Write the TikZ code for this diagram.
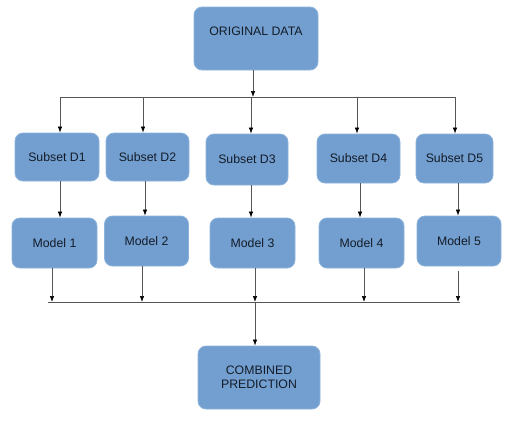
\documentclass[tikz,border=0pt]{standalone}
\usepackage{fontspec}
\setmainfont{Liberation Sans}
\usetikzlibrary{arrows.meta}
\definecolor{boxfill}{HTML}{729FCF}
\definecolor{boxline}{HTML}{8DB2DB}
\definecolor{boxtext}{HTML}{141B28}
\definecolor{wire}{HTML}{555555}
\tikzset{
  blk/.style={draw=boxline, line width=0.8pt, fill=boxfill, rounded corners=8pt,
    text=boxtext, font=\fontsize{12.3}{14}\selectfont, align=center, inner sep=0pt},
  arr/.style={draw=wire, line width=0.7pt, -{Latex[length=6pt,width=4.5pt,color=black]}},
  wireline/.style={draw=wire, line width=0.7pt}
}
\begin{document}
\begin{tikzpicture}[x=1pt,y=-1pt]
\useasboundingbox (0,0) rectangle (509,421);
% top
\node[blk, minimum width=124pt, minimum height=63pt] (top) at (256,38.5) {ORIGINAL DATA\\[1pt]\mbox{}};
% subsets
\node[blk, minimum width=84pt, minimum height=48pt] (s1) at (57,157) {Subset D1};
\node[blk, minimum width=83pt, minimum height=48pt] (s2) at (147.5,157) {Subset D2};
\node[blk, minimum width=82pt, minimum height=51pt] (s3) at (247,159.5) {Subset D3};
\node[blk, minimum width=83pt, minimum height=49pt] (s4) at (358.5,158.5) {Subset D4};
\node[blk, minimum width=77pt, minimum height=49pt] (s5) at (454.5,158.5) {Subset D5};
% models
\node[blk, minimum width=85pt, minimum height=50pt] (m1) at (54.5,243) {Model 1};
\node[blk, minimum width=84pt, minimum height=50pt] (m2) at (146.5,241) {Model 2};
\node[blk, minimum width=85pt, minimum height=50pt] (m3) at (252.5,243) {Model 3};
\node[blk, minimum width=85pt, minimum height=50pt] (m4) at (361.5,243) {Model 4};
\node[blk, minimum width=84pt, minimum height=50pt] (m5) at (459,241) {Model 5};
% combined
\node[blk, minimum width=122pt, minimum height=63pt] (comb) at (259,377.5) {COMBINED\\PREDICTION};

% upper bus
\coordinate (ta) at (253,97);
\coordinate (ua) at (60,97);
\coordinate (ub) at (143,97);
\coordinate (uc) at (251,97);
\coordinate (ud) at (357,97);
\coordinate (ue) at (455,97);
\draw[wireline] (ua) -- (ue);
\draw[arr] (top.south -| ta) -- (ta);
\draw[arr] (ua) -- (ua |- s1.north);
\draw[arr] (ub) -- (ub |- s2.north);
\draw[arr] (uc) -- (uc |- s3.north);
\draw[arr] (ud) -- (ud |- s4.north);
\draw[arr] (ue) -- (ue |- s5.north);

% subset to model
\coordinate (pa) at (60,0);
\coordinate (pb) at (145,0);
\coordinate (pc) at (251,0);
\coordinate (pd) at (360,0);
\coordinate (pe) at (458,0);
\draw[arr] (s1.south -| pa) -- (m1.north -| pa);
\draw[arr] (s2.south -| pb) -- (m2.north -| pb);
\draw[arr] (s3.south -| pc) -- (m3.north -| pc);
\draw[arr] (s4.south -| pd) -- (m4.north -| pd);
\draw[arr] (s5.south -| pe) -- (m5.north -| pe);

% lower bus
\coordinate (la) at (52,302);
\coordinate (lb) at (142,302);
\coordinate (lc) at (255,302);
\coordinate (ld) at (364,302);
\coordinate (le) at (458,302);
\coordinate (l0) at (48,302);
\coordinate (l9) at (460,302);
\coordinate (le0) at (458,271);
\draw[wireline] (l0) -- (l9);
\draw[arr] (m1.south -| la) -- (la);
\draw[arr] (m2.south -| lb) -- (lb);
\draw[arr] (m3.south -| lc) -- (lc);
\draw[arr] (m4.south -| ld) -- (ld);
\draw[arr] (le0) -- (le);
\draw[arr] (lc) -- (comb.north -| lc);
\end{tikzpicture}
\end{document}
